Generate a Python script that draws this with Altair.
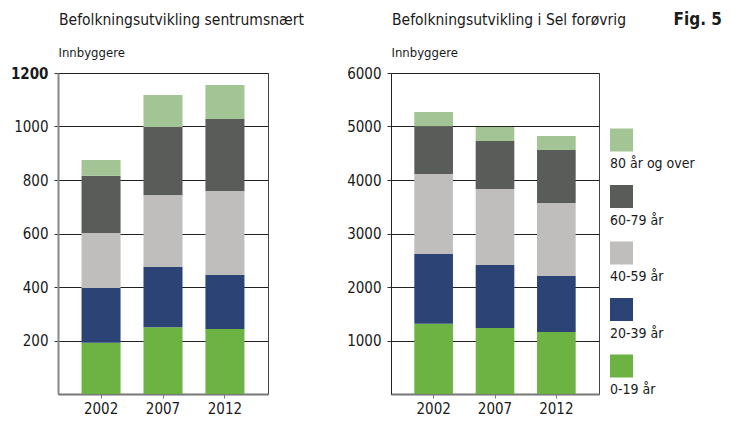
import altair as alt
import pandas as pd

years = ["2002", "2007", "2012"]
groups = ["0-19 år", "20-39 år", "40-59 år", "60-79 år", "80 år og over"]
colors = ["#6db344", "#2c4475", "#bfbebc", "#5a5c5a", "#a3c495"]

# Sentrumsnært (values per age group, per year 2002/2007/2012)
sentrum_0_19 = [192, 250, 243]
sentrum_20_39 = [204, 225, 202]
sentrum_40_59 = [206, 269, 314]
sentrum_60_79 = [214, 254, 269]
sentrum_80 = [59, 120, 127]

# Sel forøvrig
sel_0_19 = [1314, 1234, 1159]
sel_20_39 = [1303, 1177, 1047]
sel_40_59 = [1495, 1421, 1364]
sel_60_79 = [891, 897, 991]
sel_80 = [268, 261, 261]

left_ticks = [200, 400, 600, 800, 1000, 1200]
right_ticks = [1000, 2000, 3000, 4000, 5000, 6000]

FONT = "'DejaVu Sans Condensed', sans-serif"
TXT = "#1a1a1a"


def make_df(series):
    rows = []
    for gi, (g, vals) in enumerate(zip(groups, series)):
        for y, v in zip(years, vals):
            rows.append({"year": y, "group": g, "idx": gi, "value": v})
    return pd.DataFrame(rows)


df_left = make_df([sentrum_0_19, sentrum_20_39, sentrum_40_59, sentrum_60_79, sentrum_80])
df_right = make_df([sel_0_19, sel_20_39, sel_40_59, sel_60_79, sel_80])


def panel(df, title, ticks, width, domain_color, domain_width, bold_top):
    if bold_top:
        weight = {"condition": {"test": f"datum.value == {ticks[-1]}", "value": "bold"}, "value": "normal"}
    else:
        weight = "normal"
    return alt.Chart(df, title=alt.Title(
        title, anchor="start", frame="group", fontSize=15.5, font=FONT,
        fontWeight="normal", color=TXT, offset=18, dx=1)).mark_bar().encode(
        x=alt.X("year:N", sort=years,
                scale=alt.Scale(paddingInner=0.37, paddingOuter=0.38),
                axis=alt.Axis(title=None, labelAngle=0, labelFontSize=15, labelFont=FONT,
                              labelColor=TXT, domainColor="#777", domainWidth=2,
                              tickColor="#777", tickSize=4, labelPadding=3)),
        y=alt.Y("value:Q", stack="zero",
                scale=alt.Scale(domain=[0, ticks[-1]], nice=False),
                axis=alt.Axis(values=ticks, title="Innbyggere", titleAngle=0, format="d",
                              titleAlign="left", titleBaseline="alphabetic",
                              titleX=0, titleY=-17, titleFont=FONT, titleFontSize=13,
                              titleFontWeight="normal", titleColor=TXT,
                              labelFont=FONT, labelFontSize=15, labelColor=TXT,
                              labelFontWeight=weight,
                              domainColor=domain_color, domainWidth=domain_width,
                              tickColor="#333", tickSize=4, labelPadding=6,
                              gridColor="#222", gridWidth=1)),
        color=alt.Color("group:N", scale=alt.Scale(domain=groups, range=colors), legend=None),
        order=alt.Order("idx:Q", sort="ascending"),
    ).properties(width=width, height=321)


left = panel(df_left, "Befolkningsutvikling sentrumsnært", left_ticks, 210, "#888", 2, True)
right = panel(df_right, "Befolkningsutvikling i Sel forøvrig", right_ticks, 208, "#222", 1, False)

# empty spacer between the two panels (room for the right panel's axis)
spacer = alt.Chart(pd.DataFrame({"a": [0]})).mark_point(opacity=0).encode(
    x=alt.value(0), y=alt.value(0)
).properties(width=101, height=321, view=alt.ViewBackground(stroke=None))

legend_df = pd.DataFrame({"group": groups, "idx": list(range(len(groups)))})
leg_order = groups[::-1]
leg_base = alt.Chart(legend_df, title=alt.Title(
    "Fig. 5", anchor="end", frame="group", fontSize=17, font=FONT,
    fontWeight="bold", color=TXT, offset=44))
leg_y = alt.Y("group:N", sort=leg_order, axis=None,
              scale=alt.Scale(range=[67, 293], padding=0))
leg_sym = leg_base.mark_square(size=530, opacity=1).encode(
    x=alt.value(11.5), y=leg_y,
    color=alt.Color("group:N", scale=alt.Scale(domain=groups, range=colors), legend=None))
leg_txt = leg_base.mark_text(align="left", baseline="middle", dy=24, fontSize=14,
                             font=FONT, color=TXT).encode(
    x=alt.value(0), y=leg_y, text="group:N")
legend = alt.layer(leg_sym, leg_txt).properties(
    width=112, height=321, view=alt.ViewBackground(stroke=None))

chart = alt.hconcat(left, spacer, right, legend, spacing=11, bounds="flush").configure_view(
    stroke="#444", strokeWidth=1
).properties(padding={"left": 1, "top": 3, "right": 0, "bottom": 0})

chart.save("out.html", embed_options={"renderer": "svg", "actions": False})
